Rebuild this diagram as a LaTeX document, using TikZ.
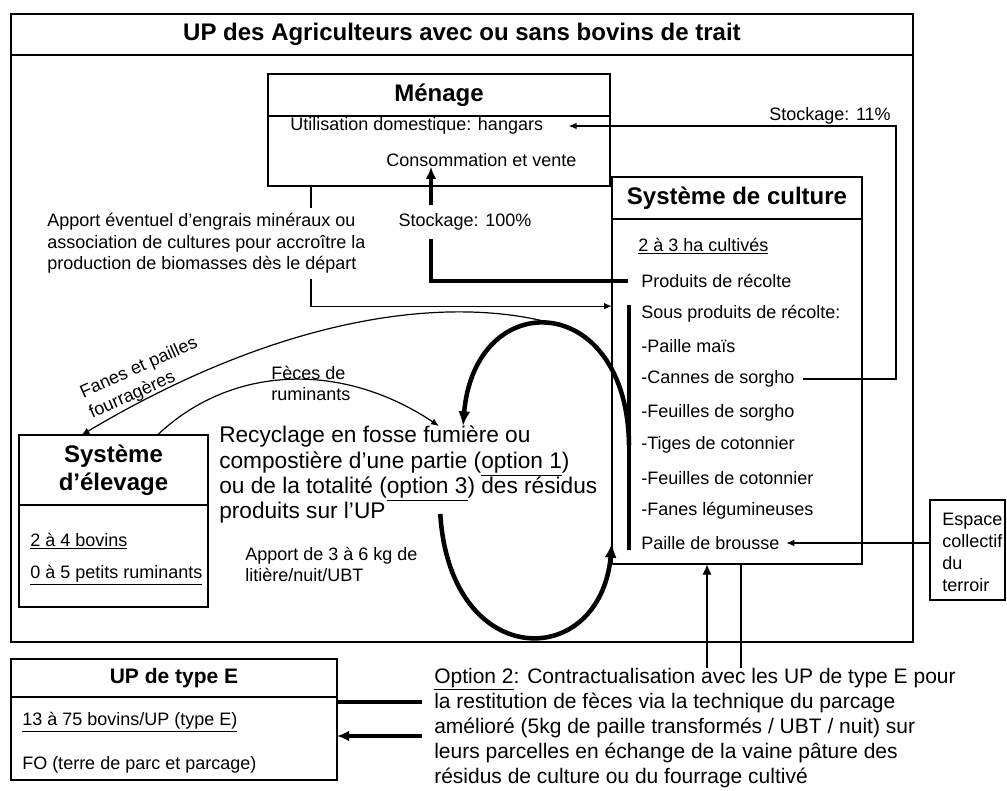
\documentclass[tikz,border=0pt]{standalone}
\usepackage{fontspec}
\setmainfont{Liberation Sans}
\usetikzlibrary{arrows.meta}
\tikzset{
  framebox/.style={draw,line width=0.9pt,inner sep=0pt,outer sep=0pt},
  headbox/.style={framebox,align=center,
                  font=\fontsize{18}{21}\selectfont\bfseries},
  bodybox/.style={framebox},
  txt/.style={inner sep=0pt,align=left,font=\fontsize{13.5}{16}\selectfont},
  bigtxt/.style={inner sep=0pt,align=left,font=\fontsize{17}{19}\selectfont},
  opttxt/.style={inner sep=0pt,align=left,font=\fontsize{15.75}{18.75}\selectfont},
  thinline/.style={line width=0.9pt},
  thinarr/.style={-{Latex[length=6pt,width=5pt]},line width=0.9pt},
  midline/.style={line width=2.2pt},
  midarr/.style={-{Latex[length=8pt,width=7pt]},line width=2.2pt},
  heavyline/.style={line width=3pt},
  heavyarr/.style={-{Latex[length=9pt,width=8pt]},line width=3pt},
  looparr/.style={-{Latex[length=11pt,width=9pt]},line width=3.4pt}
}

\begin{document}
\begin{tikzpicture}[x=0.75pt,y=-0.75pt,>=Latex]
  \useasboundingbox (0,0) rectangle (1007,791);
  % UP des agriculteurs
  \node[headbox,line width=1.2pt,minimum width=676.5pt,minimum height=30.75pt] (uphead) at (462,34.5)
    {UP des Agriculteurs avec ou sans bovins de trait};
  \node[bodybox,line width=1.2pt,minimum width=676.5pt,minimum height=440.25pt] (upbody) at (462,348.5) {};
  % Menage
  \node[headbox,minimum width=256.5pt,minimum height=31.5pt] (menhead) at (439,95) {Ménage};
  \node[bodybox,minimum width=256.5pt,minimum height=52.5pt] (menbody) at (439,151) {};
  \node[txt,anchor=west] (hangars) at (290,126) {Utilisation domestique: hangars};
  \node[txt,anchor=west] (conso) at (386,160) {Consommation et vente};
  % Systeme de culture
  \node[headbox,minimum width=187.5pt,minimum height=31.5pt] (culhead) at (737,198) {Système de culture};
  \node[bodybox,minimum width=187.5pt,minimum height=258.75pt] (culbody) at (737,391.5) {};
  \node[txt,anchor=west] (ha) at (638,246) {\underline{2 à 3 ha cultivés}};
  \foreach \name/\y/\entry in {prod/281/Produits de récolte,sous/314/Sous produits de récolte:,
      paille/346/-Paille maïs,cannes/379/-Cannes de sorgho,fsorgho/413/-Feuilles de sorgho,
      tiges/445/-Tiges de cotonnier,fcoton/478/-Feuilles de cotonnier,
      fanes/511/-Fanes légumineuses,brousse/543/Paille de brousse}
    \node[txt,anchor=west] (\name) at (641,\y) {\entry};
  % Systeme d'elevage
  \node[headbox,minimum width=141.75pt,minimum height=52.5pt] (elevhead) at (113.5,470) {Système\\d’élevage};
  \node[bodybox,minimum width=141.75pt,minimum height=76.5pt] (elevbody) at (113.5,556) {};
  \node[txt,anchor=west] (bovins) at (30,541) {\underline{2 à 4 bovins}};
  \node[txt,anchor=west] (petits) at (30,575) {\underline{0 à 5 petits ruminants}};
  % UP de type E
  \node[headbox,font=\fontsize{15.75}{18}\selectfont\bfseries,minimum width=244.5pt,minimum height=28.5pt]
    (ehead) at (174,678) {UP de type E};
  \node[bodybox,minimum width=244.5pt,minimum height=62.25pt] (ebody) at (174,738.5) {};
  \node[txt,anchor=west] (ebovins) at (22,722) {\underline{13 à 75 bovins/UP (type E)}};
  \node[txt,anchor=west] (fo) at (22,765) {FO (terre de parc et parcage)};
  % Espace collectif
  \node[bodybox,minimum width=56.25pt,minimum height=75pt] (espbox) at (967.5,550) {};
  \node[txt,anchor=west,font=\fontsize{13.5}{16.5}\selectfont] (esp) at (942,552) {Espace\\collectif\\du\\terroir};
  % free texts
  \node[txt,anchor=west,minimum height=52.5pt] (apport) at (47,243.5)
    {Apport éventuel d’engrais minéraux ou\\association de cultures pour accroître la\\production de biomasses dès le départ};
  \node[txt,minimum height=25.5pt] (stock100) at (465,222) {Stockage: 100\%};
  \node[txt,anchor=south east] (stock11) at (891,125) {Stockage: 11\%};
  \node[bigtxt,anchor=north west] (recyc) at (219,426)
    {Recyclage en fosse fumière ou\\compostière d’une partie (\underline{option 1})\\ou de la totalité (\underline{option 3}) des résidus\\produits sur l’UP};
  \node[txt,anchor=west,font=\fontsize{13.5}{15.75}\selectfont] (litiere) at (245,564.5) {Apport de 3 à 6 kg de\\litière/nuit/UBT};
  \node[txt,anchor=west,font=\fontsize{13.5}{15.75}\selectfont] (feces) at (271,383.5) {Fèces de\\ruminants};
  \node[txt,rotate=24,font=\fontsize{13.5}{16.5}\selectfont] (fourr) at (143.5,378.5) {Fanes et pailles\\fourragères};
  \node[opttxt,anchor=north west] (opt) at (434,668)
    {\underline{Option 2}: Contractualisation avec les UP de type E pour\\la restitution de fèces via la technique du parcage\\amélioré (5kg de paille transformés / UBT / nuit) sur\\leurs parcelles en échange de la vaine pâture des\\résidus de culture ou du fourrage cultivé};

  % connectors
  \coordinate (c11) at (896,126);
  \draw[thinarr] ([xshift=6pt]cannes.east) -| (c11) -- ([xshift=19pt]hangars.east);
  \coordinate (upx) at (431,0);
  \draw[heavyline] ([xshift=-10pt]prod.west) -| (upx |- stock100.south);
  \draw[heavyarr] (upx |- stock100.north) -- (upx |- conso.south);
  \coordinate (apx) at (311,0);
  \draw[thinline] (apx |- menbody.south) -- (apx |- apport.north);
  \draw[thinarr] (apx |- apport.south) |- ([yshift=64pt]culbody.west);
  \draw[heavyline] ([xshift=-9pt]sous.north west) -- ([xshift=-9pt]brousse.south west);
  \draw[looparr] ([xshift=-9pt]tiges.west) .. controls (627,290) and (475,285) ..
    ([xshift=183pt]recyc.north west);
  \draw[looparr] ([xshift=24pt,yshift=7.5pt]recyc.south) .. controls (450,672) and (600,672) ..
    (culbody.west |- brousse.west);
  \coordinate (looptop) at (568,328);
  \draw[thinarr] (looptop) .. controls (470,295) and (300,305) .. ([xshift=-24pt]elevhead.north);
  \draw[thinarr] ([xshift=33pt]elevhead.north) .. controls (230,366) and (340,360) .. ([xshift=165pt]recyc.north west);
  \draw[thinarr] (espbox.west |- brousse.west) -- ([xshift=5pt]brousse.east);
  \path ([xshift=204.75pt]opt.north west) coordinate (o2a)
        ([xshift=230.25pt]opt.north west) coordinate (o2b);
  \draw[midarr] (o2a) -- (o2a |- culbody.south);
  \draw[midline] (o2b) -- (o2b |- culbody.south);
  \path ([xshift=-9pt,yshift=-25.5pt]opt.north west) coordinate (o2l)
        ([xshift=-9pt,yshift=-51pt]opt.north west) coordinate (o2m);
  \draw[heavyline] (o2l) -- (o2l -| ebody.east);
  \draw[heavyarr] (o2m) -- (o2m -| ebody.east);
\end{tikzpicture}
\end{document}
